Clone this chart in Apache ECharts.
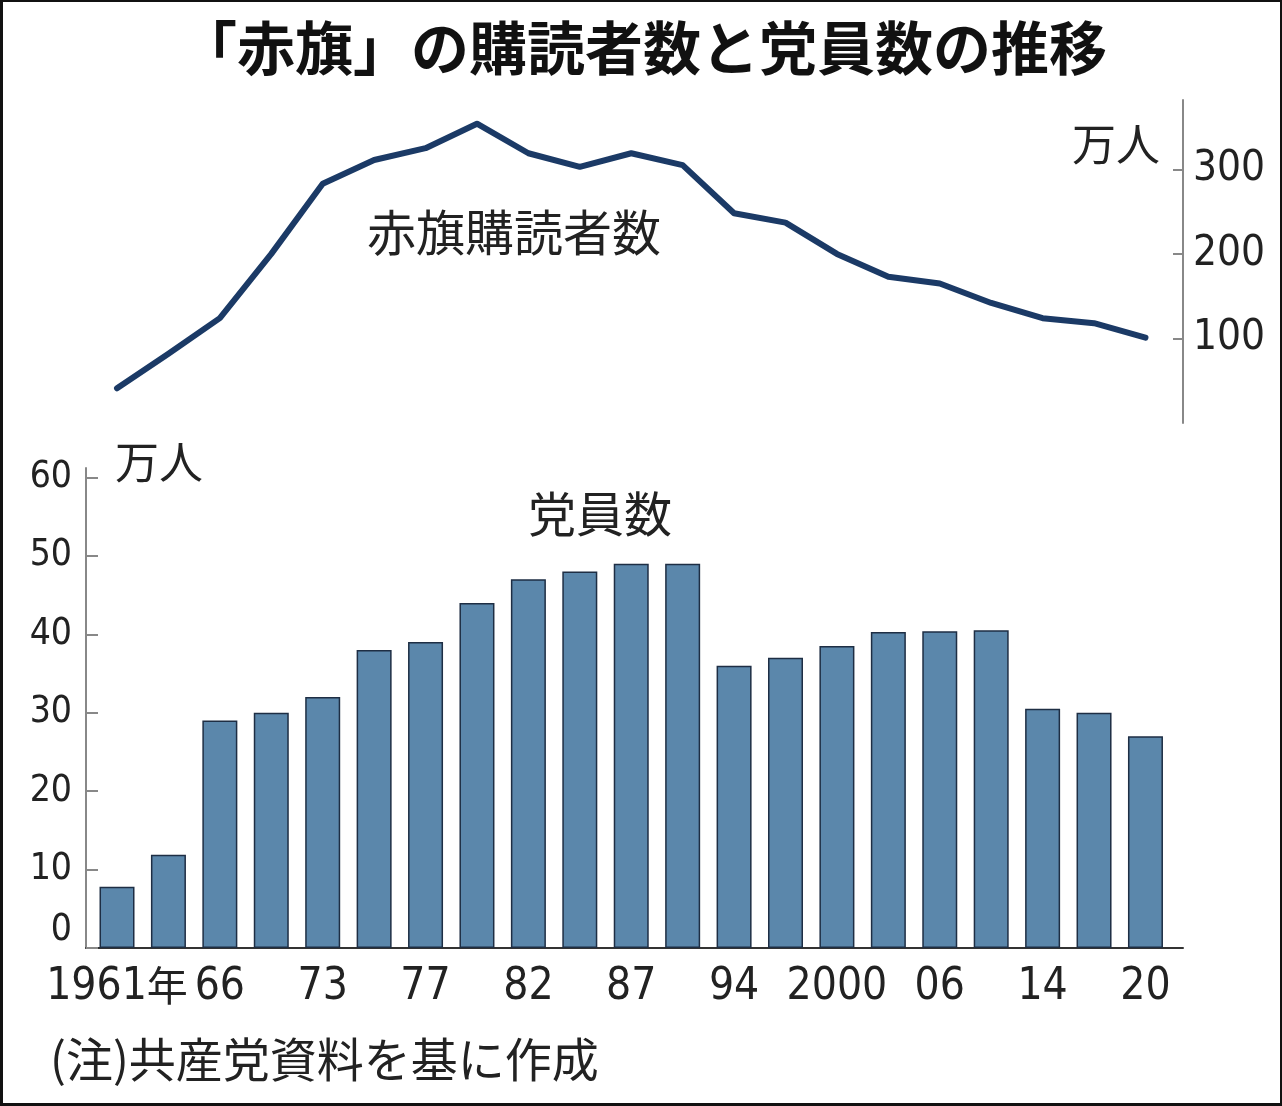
<!DOCTYPE html>
<html>
<head>
<meta charset="utf-8">
<script src="https://cdn.jsdelivr.net/npm/echarts@6/dist/echarts.min.js"></script>
<style>
	html, body { margin: 0; padding: 0; background: #111; }
	#main { position: absolute; left: 3px; top: 2px; width: 1277px; height: 1101px; background: #fff; }
</style>
</head>
<body>
<div id="main"></div>
<script>
// 党大会の年
var years = ['1961', '64', '66', '70', '73', '76', '77', '80', '82', '85', '87', '90', '94', '97', '2000', '04', '06', '10', '14', '17', '20'];
// 目盛りに出す年
var tickYears = ['1961', '66', '73', '77', '82', '87', '94', '2000', '06', '14', '20'];
// 党員数（万人）
var members = [7.8, 11.9, 29, 30, 32, 38, 39, 44, 47, 48, 49, 49, 36, 37, 38.5, 40.3, 40.4, 40.5, 30.5, 30, 27];
// 赤旗購読者数（万人）
var readers = [41, 82, 124, 200, 283, 311, 325, 354, 319, 303, 319, 305, 248, 237, 200, 173, 165, 142, 124, 118, 101];
var memberTicks = [0, 10, 20, 30, 40, 50, 60];
var readerTicks = [100, 200, 300];

var numFont = "'Liberation Sans Narrow', 'DejaVu Sans Condensed', 'Noto Sans CJK JP', sans-serif";
var jpFont = "'Noto Sans CJK JP', sans-serif";

var myChart = echarts.init(document.getElementById('main'));

var barData = [];
var lineData = [];
for (var i = 0; i < years.length; i++) {
	barData.push([i, members[i]]);
	lineData.push([i, readers[i]]);
}
var xTickValues = [];
for (var j = 0; j < tickYears.length; j++) {
	xTickValues.push(years.indexOf(tickYears[j]));
}

var option = {
	animation: false,
	textStyle: { fontFamily: jpFont },
	title: {
		text: '「赤旗」の購読者数と党員数の推移',
		left: 171,
		top: 12,
		textStyle: { fontFamily: jpFont, fontSize: 58, fontWeight: 'bold', color: '#111' }
	},
	grid: [
		{ left: 83, top: 466, width: 1097, height: 480 },
		{ left: 83, top: 98, width: 1097, height: 323 }
	],
	xAxis: [
		{
			type: 'value',
			gridIndex: 0,
			min: -0.603,
			max: 20.73,
			splitLine: { show: false },
			axisTick: { show: false },
			axisLine: { show: true, onZero: false, lineStyle: { color: '#333', width: 2 } },
			axisLabel: {
				customValues: xTickValues,
				showMinLabel: true,
				margin: 12,
				formatter: function (v) {
					var y = years[Math.round(v)];
					return v === 0 ? '{n|' + y + '}{k|年}' : '{n|' + y + '}';
				},
				rich: {
					n: { fontFamily: numFont, fontSize: 44, lineHeight: 56, color: '#222' },
					k: { fontFamily: jpFont, fontSize: 41, lineHeight: 56, color: '#222', padding: [0, 0, 5, 0] }
				}
			}
		},
		{
			type: 'value',
			gridIndex: 1,
			min: -0.603,
			max: 20.73,
			show: false
		}
	],
	yAxis: [
		{
			type: 'value',
			gridIndex: 0,
			min: 0,
			max: 61.2,
			splitLine: { show: false },
			axisLine: { show: true, onZero: false, lineStyle: { color: '#888', width: 2 } },
			axisTick: { show: true, inside: true, length: 12, customValues: memberTicks, lineStyle: { color: '#888', width: 2 } },
			axisLabel: {
				customValues: memberTicks,
				margin: 14,
				formatter: function (v) {
					return v === 0 ? '{z|0}' : '{n|' + v + '}';
				},
				rich: {
					n: { fontFamily: numFont, fontSize: 37, color: '#222' },
					z: { fontFamily: numFont, fontSize: 37, color: '#222', padding: [0, 0, 36, 0] }
				}
			}
		},
		{
			type: 'value',
			gridIndex: 1,
			position: 'right',
			min: 0,
			max: 382,
			splitLine: { show: false },
			axisLine: { show: true, onZero: false, lineStyle: { color: '#888', width: 2 } },
			axisTick: { show: true, inside: true, length: 10, customValues: readerTicks, lineStyle: { color: '#888', width: 2 } },
			axisLabel: {
				customValues: readerTicks,
				margin: 10,
				fontFamily: numFont,
				fontSize: 42,
				color: '#222'
			}
		}
	],
	graphic: [
		{ type: 'text', right: 120, top: 120, style: { text: '万人', font: '44px ' + jpFont, fill: '#222' } },
		{ type: 'text', left: 364, top: 206, style: { text: '赤旗購読者数', font: '49px ' + jpFont, fill: '#222' } },
		{ type: 'text', left: 112, top: 438, style: { text: '万人', font: '44px ' + jpFont, fill: '#222' } },
		{ type: 'text', left: 525, top: 488, style: { text: '党員数', font: '48px ' + jpFont, fill: '#222' } },
		{ type: 'text', left: 47, top: 1034, style: { text: '(注)共産党資料を基に作成', font: '47px ' + jpFont, fill: '#222' } }
	],
	series: [
		{
			name: '党員数',
			type: 'bar',
			xAxisIndex: 0,
			yAxisIndex: 0,
			barWidth: 35,
			data: barData,
			itemStyle: { color: '#5b87ab', borderColor: '#1e2e44', borderWidth: 1.5 }
		},
		{
			name: '赤旗購読者数',
			type: 'line',
			xAxisIndex: 1,
			yAxisIndex: 1,
			symbol: 'none',
			data: lineData,
			lineStyle: { color: '#1b3a66', width: 6, cap: 'round', join: 'round' }
		}
	]
};

myChart.setOption(option);
</script>
</body>
</html>
